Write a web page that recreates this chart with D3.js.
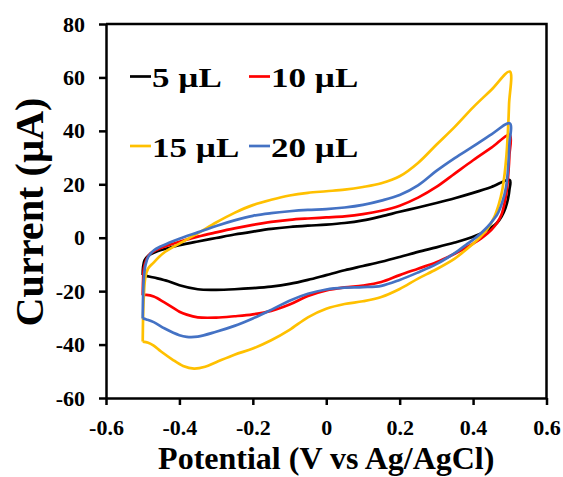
<!DOCTYPE html>
<html>
<head>
<meta charset="utf-8">
<script src="https://cdn.jsdelivr.net/npm/d3@7"></script>
<style>
  body { margin: 0; background: #fff; }
  text { font-family: "Times New Roman", "Liberation Serif", serif; font-weight: bold; }
</style>
</head>
<body>
<div id="container"></div>
<script>
const WIDTH = 563;
const HEIGHT = 477;
const LEFT = 106;
const RIGHT = 546.5;
const TOP = 24;
const BOTTOM = 398;

// CV loops, [potential (V), current (µA)] in scan order
const cv5 = [
  [-0.5, -14], [-0.499, -11], [-0.495, -8.5], [-0.485, -6.8], [-0.47, -5.6], [-0.44, -4.2],
  [-0.4, -2.8], [-0.35, -1.4], [-0.3, -0.1], [-0.25, 1.2], [-0.2, 2.3], [-0.15, 3.3],
  [-0.1, 4], [-0.05, 4.5], [0, 4.9], [0.05, 5.5], [0.1, 6.5], [0.15, 8], [0.2, 9.7],
  [0.25, 11.3], [0.3, 13], [0.35, 14.8], [0.4, 16.8], [0.45, 19], [0.5, 21.6],
  [0.499, 18], [0.495, 14.5], [0.488, 11], [0.478, 8], [0.465, 5.5], [0.447, 3.6],
  [0.43, 2.2], [0.41, 0.9], [0.38, -0.6], [0.35, -1.8], [0.3, -3.6], [0.25, -5.3],
  [0.2, -7.2], [0.15, -9], [0.1, -10.6], [0.05, -12.2], [0, -14], [-0.05, -15.8],
  [-0.1, -17.3], [-0.15, -18.3], [-0.2, -18.9], [-0.25, -19.3], [-0.3, -19.5],
  [-0.35, -19.3], [-0.4, -17.8], [-0.43, -16.3], [-0.46, -15.2], [-0.48, -14.6], [-0.5, -14]
];
const cv10 = [
  [-0.5, -21.5], [-0.499, -16], [-0.497, -11.5], [-0.49, -8.2], [-0.48, -6], [-0.46, -4.4],
  [-0.44, -3.3], [-0.4, -1.5], [-0.35, 0.4], [-0.3, 2], [-0.25, 3.5], [-0.2, 4.8],
  [-0.15, 5.9], [-0.1, 6.7], [-0.05, 7.2], [0, 7.6], [0.05, 8], [0.1, 8.8], [0.15, 10.1],
  [0.2, 12], [0.25, 15], [0.3, 19], [0.35, 24], [0.4, 29], [0.45, 33.7], [0.5, 38.5],
  [0.499, 31], [0.496, 24], [0.491, 17], [0.485, 12.5], [0.477, 8.5], [0.465, 5.5],
  [0.45, 3], [0.43, 0.6], [0.41, -1.4], [0.38, -3.8], [0.35, -6], [0.3, -9.2],
  [0.25, -11.6], [0.2, -14], [0.15, -16.6], [0.1, -17.9], [0.05, -18.6], [0, -19.7],
  [-0.05, -21.8], [-0.1, -25], [-0.15, -27.4], [-0.2, -28.7], [-0.25, -29.4], [-0.3, -29.9],
  [-0.35, -29.8], [-0.38, -28.8], [-0.4, -27.7], [-0.44, -24.3], [-0.47, -22],
  [-0.49, -21.4], [-0.5, -21.5]
];
const cv15 = [
  [-0.5, -38.9], [-0.499, -30], [-0.497, -22], [-0.493, -15], [-0.485, -11.5], [-0.471, -9.4],
  [-0.444, -5.8], [-0.4, -2.2], [-0.35, 1.6], [-0.3, 5.7], [-0.25, 9.3], [-0.2, 12.2],
  [-0.15, 14.2], [-0.1, 15.8], [-0.05, 16.8], [0, 17.4], [0.05, 18], [0.1, 19], [0.15, 20.4],
  [0.2, 23], [0.25, 28], [0.3, 34.8], [0.35, 41.5], [0.4, 48.8], [0.45, 55.4], [0.5, 62.2],
  [0.498, 50], [0.495, 40], [0.491, 31], [0.486, 24], [0.479, 17.5], [0.47, 12.5],
  [0.457, 7.5], [0.44, 3.5], [0.42, 0.3], [0.4, -2.3], [0.38, -4.6], [0.35, -7.8],
  [0.3, -11.8], [0.25, -15.3], [0.2, -19.2], [0.15, -22.2], [0.1, -23.8], [0.05, -24.8],
  [0, -26.6], [-0.05, -29.8], [-0.1, -34.5], [-0.15, -38.4], [-0.2, -41.5], [-0.25, -43.8],
  [-0.3, -46.6], [-0.33, -48.3], [-0.36, -49], [-0.39, -48], [-0.42, -45.5], [-0.45, -42.6],
  [-0.47, -40.4], [-0.485, -39.3], [-0.5, -38.9]
];
const cv20 = [
  [-0.5, -30.2], [-0.499, -22], [-0.497, -15], [-0.492, -10], [-0.485, -7.2], [-0.47, -4.8],
  [-0.453, -3.4], [-0.43, -2], [-0.4, -0.4], [-0.35, 2], [-0.3, 4.4], [-0.25, 6.5],
  [-0.2, 8.2], [-0.15, 9.2], [-0.1, 9.9], [-0.05, 10.4], [0, 10.7], [0.05, 11.3], [0.1, 12.3],
  [0.15, 13.9], [0.2, 16], [0.25, 19.6], [0.3, 25], [0.35, 29.8], [0.4, 34.2], [0.45, 38.7],
  [0.5, 42.8],
  [0.499, 35], [0.496, 27], [0.49, 19], [0.48, 13.5], [0.467, 9], [0.447, 5.3],
  [0.43, 2.8], [0.41, 0.3], [0.385, -2.2], [0.36, -4.8], [0.33, -7.5], [0.3, -9.9],
  [0.25, -13], [0.2, -15.8], [0.15, -18], [0.1, -18.5], [0.05, -18.7], [0, -19.4],
  [-0.05, -21], [-0.1, -23.6], [-0.15, -27], [-0.2, -30.2], [-0.25, -33], [-0.3, -35.2],
  [-0.35, -37], [-0.38, -37.1], [-0.4, -36.5], [-0.44, -34], [-0.47, -31.6],
  [-0.49, -30.6], [-0.5, -30.2]
];

const seriesNames = ["5 µL", "10 µL", "15 µL", "20 µL"];
const xTicks = [-0.6, -0.4, -0.2, 0, 0.2, 0.4, 0.6];
const xTickLabels = ["-0.6", "-0.4", "-0.2", "0", "0.2", "0.4", "0.6"];
const yTicks = [-60, -40, -20, 0, 20, 40, 60, 80];
const yTickLabels = ["-60", "-40", "-20", "0", "20", "40", "60", "80"];

const colors = ["#000000", "#ff0000", "#ffc000", "#4472c4"];
const series = [cv5, cv10, cv15, cv20];

const svg = d3
  .select("div#container")
  .append("svg")
  .attr("width", WIDTH)
  .attr("height", HEIGHT);

const xScale = d3.scaleLinear().domain([-0.6, 0.6]).range([LEFT, RIGHT]);
const yScale = d3.scaleLinear().domain([-60, 80]).range([BOTTOM, TOP]);

const xAxis = d3
  .axisBottom(xScale)
  .tickValues(xTicks)
  .tickFormat((_, i) => xTickLabels[i])
  .tickSize(7)
  .tickSizeOuter(0)
  .tickPadding(14);
const yAxis = d3
  .axisLeft(yScale)
  .tickValues(yTicks)
  .tickFormat((_, i) => yTickLabels[i])
  .tickSize(7)
  .tickSizeOuter(0)
  .tickPadding(14);

const line = d3
  .line()
  .x((d) => xScale(d[0]))
  .y((d) => yScale(d[1]))
  .curve(d3.curveCatmullRom.alpha(0.5));

svg
  .selectAll("path.cv")
  .data(series)
  .enter()
  .append("path")
  .attr("class", "cv")
  .attr("d", line)
  .attr("fill", "none")
  .attr("stroke", (_, i) => colors[i])
  .attr("stroke-width", 2.7)
  .attr("stroke-linejoin", "round");

// top and right border of the plot box
svg
  .append("path")
  .attr("d", `M${LEFT},${TOP}H${RIGHT}V${BOTTOM}`)
  .attr("fill", "none")
  .attr("stroke", "#000")
  .attr("stroke-width", 2.5);

const gx = svg
  .append("g")
  .attr("transform", `translate(0, ${BOTTOM})`)
  .call(xAxis);
const gy = svg
  .append("g")
  .attr("transform", `translate(${LEFT}, 0)`)
  .call(yAxis);

[gx, gy].forEach((g) => {
  g.select(".domain").attr("stroke-width", 2.5);
  g.selectAll(".tick line").attr("stroke-width", 2.5);
  g.selectAll(".tick text")
    .attr("font-family", null)
    .attr("font-size", null)
    .style("font-size", "22px")
    .attr("fill", "#000");
});

// legend, two columns
const legend = svg.append("g");
const legendCols = [130, 249];
const legendRows = [87, 156.5];
seriesNames.forEach((name, i) => {
  const lx = legendCols[i % 2];
  const ly = legendRows[Math.floor(i / 2)];
  legend
    .append("line")
    .attr("x1", lx)
    .attr("x2", lx + 21)
    .attr("y1", ly - 10.5)
    .attr("y2", ly - 10.5)
    .attr("stroke", colors[i])
    .attr("stroke-width", 2.7);
  const t = legend
    .append("text")
    .attr("x", lx + 22)
    .attr("y", ly)
    .style("font-size", "28px")
    .text(name);
  const w = t.node().getComputedTextLength();
  t.attr("textLength", w * 1.25).attr("lengthAdjust", "spacingAndGlyphs");
});

svg
  .append("text")
  .attr("x", (LEFT + RIGHT) / 2)
  .attr("y", 469)
  .attr("text-anchor", "middle")
  .style("font-size", "32px")
  .text("Potential (V vs Ag/AgCl)");

svg
  .append("text")
  .attr("transform", `translate(43, ${(TOP + BOTTOM) / 2 + 1}) rotate(-90)`)
  .attr("text-anchor", "middle")
  .style("font-size", "40px")
  .attr("textLength", 229)
  .attr("lengthAdjust", "spacingAndGlyphs")
  .text("Current (µA)");
</script>
</body>
</html>
